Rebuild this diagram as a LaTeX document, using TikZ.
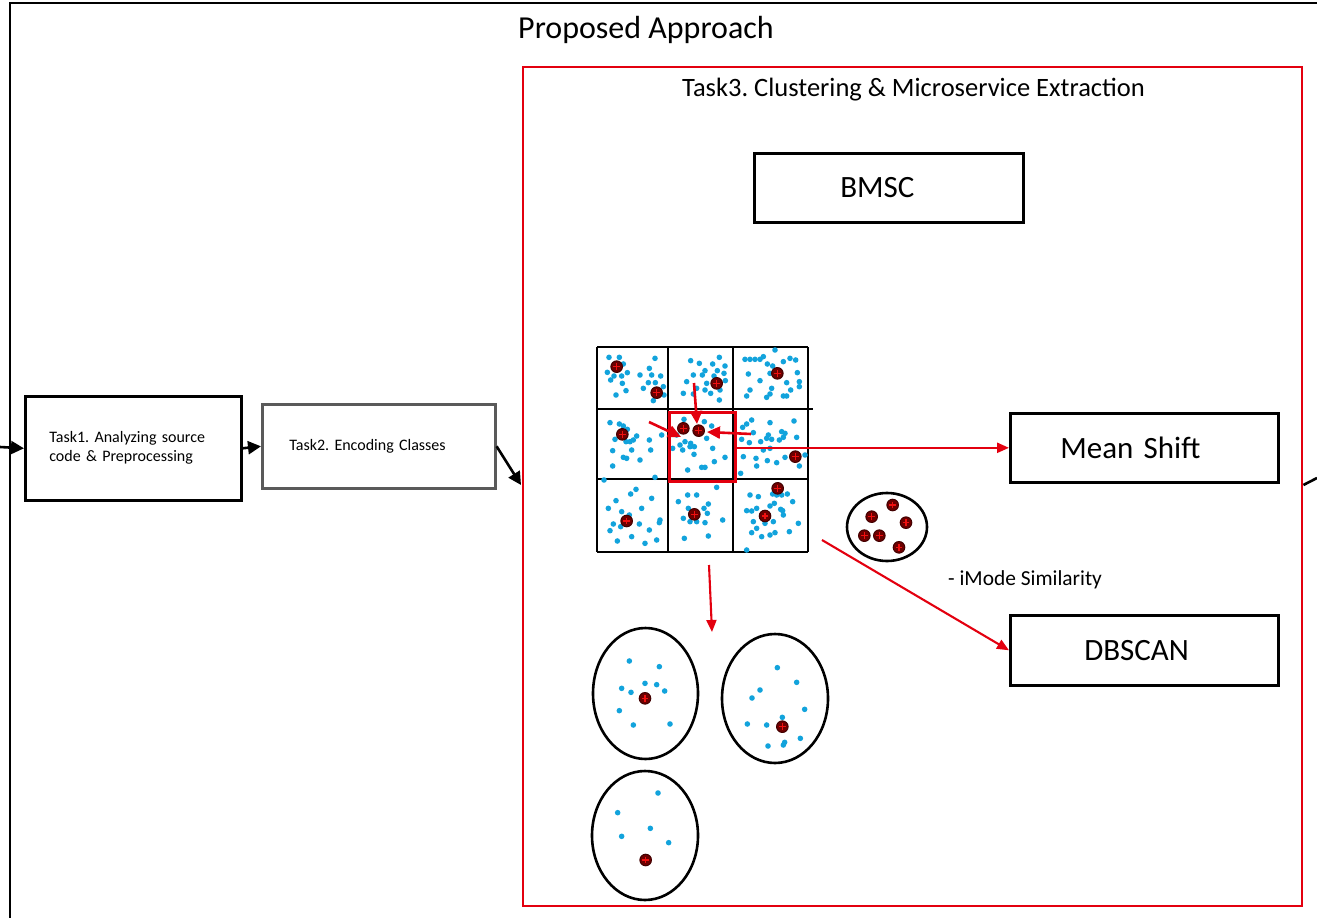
\documentclass[tikz,border=0pt]{standalone}
\usepackage{fontspec}
\setmainfont{Carlito}
\usetikzlibrary{arrows.meta,calc}
\frenchspacing

\definecolor{dotblue}{HTML}{12A3DC}
\definecolor{framered}{HTML}{E3000F}
\definecolor{cdark}{HTML}{6E0000}
\definecolor{cplus}{HTML}{F01010}
\definecolor{boxgray}{HTML}{5A5A5A}

% local origin for a group of points given in thirds of a pixel
\def\ox{0}\def\oy{0}
\newcommand\bd[2]{\fill[dotblue] ({\ox+(#1)/3},{\oy+(#2)/3}) circle[radius=2.8];}
\newcommand\cen[2]{%
  \filldraw[fill=cdark, draw=cdark!60!black, line width=1] ({\ox+(#1)/3},{\oy+(#2)/3}) circle[radius=5.8];
  \draw[cplus, line width=1.5] ({\ox+(#1)/3-3.2},{\oy+(#2)/3}) -- ++(6.4,0)
        ({\ox+(#1)/3},{\oy+(#2)/3-3.2}) -- ++(0,6.4);}

\tikzset{
  algbox/.style={draw, line width=2.6, inner ysep=0, minimum height=69, align=left},
  taskbox/.style={draw, line width=2.6, inner ysep=0, align=left, font=\fontsize{16pt}{19pt}\selectfont},
  blackarrow/.style={line width=2.6, -{Triangle[length=13pt,width=13pt]}},
  redarrow/.style={draw=framered, line width=2.1, -{Triangle[length=12pt,width=10pt]}},
  shiftarrow/.style={draw=framered, line width=2.6, -{Triangle[length=13pt,width=12pt]}},
  gridline/.style={line width=1.3},
  cluster/.style={line width=2.6},
}

\begin{document}
\begin{tikzpicture}[x=1pt, y=-1pt]
\useasboundingbox (0,0) rectangle (1317,918);

% outer frame
\draw[line width=2.8] (10,918) -- (10,3) -- (1317,3);
\node[anchor=base west, inner sep=0, font=\fontsize{32pt}{38pt}\selectfont] (title) at (518,38) {Proposed Approach};

% Task 1 and Task 2
\node[taskbox, anchor=north west, minimum height=104, inner xsep=24, text width=168] (task1) at (24,395)
  {Task1. Analyzing source\\code \& Preprocessing};
\node[taskbox, draw=boxgray, anchor=north west, minimum height=84, inner xsep=27, text width=179] (task2) at (261,403)
  {Task2. Encoding Classes};

% Task 3 frame
\node[draw=framered, line width=2.4, inner sep=0, minimum width=779, minimum height=839, anchor=north west] (task3) at (522,66) {};
\node[anchor=base west, inner sep=0, font=\fontsize{26.5pt}{32pt}\selectfont] (task3title) at (682,96) {Task3. Clustering \& Microservice Extraction};

\coordinate (entry) at (0,447);
\coordinate (t3in) at (521,485);
\coordinate (exit) at (1317,478);
\draw[blackarrow] (entry) -- (task1.west);
\draw[blackarrow] (task1.east) -- (task2.west);
\draw[blackarrow] (task2.east) -- (t3in);
\draw[line width=2.6] (task3.east |- 0,485) -- (exit);

% algorithm boxes
\node[algbox, anchor=north west, inner xsep=86, text width=97, font=\fontsize{31pt}{36pt}\selectfont] (bmsc) at (753,152) {BMSC};
\node[algbox, anchor=north west, inner xsep=50, text width=168, font=\fontsize{31pt}{36pt}\selectfont] (meanshift) at (1009,412) {Mean Shift};
\node[algbox, anchor=north west, inner xsep=74, text width=120, minimum height=70, font=\fontsize{31pt}{36pt}\selectfont] (dbscan) at (1009,614) {DBSCAN};
\node[anchor=base west, inner sep=0, font=\fontsize{21.4pt}{25pt}\selectfont] (imode) at (948,585) {- iMode Similarity};

% grid of points
\draw[gridline] (597,347) -- (808,347) (597,409) -- (813,409) (597,479) -- (808,479) (597,552) -- (808,552);
\draw[gridline] (597,347) -- (597,552) (668,347) -- (668,552) (733,347) -- (733,552) (808,347) -- (808,552);

\def\ox{590}\def\oy{340}
\foreach \p/\q in {57/52,88/52,100/72,52/97,72/108,62/120,95/108,112/98,97/130,78/165,108/152,195/55,178/85,150/105,185/105,212/108,175/128,196/128,160/145,220/140,222/165,190/182,
  388/52,302/62,328/70,368/72,405/78,345/92,382/92,402/100,310/105,337/105,372/108,290/125,350/130,406/122,320/145,345/150,390/150,280/160,310/162,362/160,388/180,
  555/30,465/58,480/58,495/58,510/58,520/50,532/72,548/78,580/65,600/55,617/60,622/98,540/100,510/122,475/102,590/128,628/125,628/140,545/145,480/150,540/162,530/172,602/150,470/168,580/168,590/168,
  60/248,88/252,100/258,112/268,75/298,108/305,120/305,130/300,140/288,178/300,182/330,215/285,150/360,68/332,100/352,110/355,68/378,195/412,42/420,125/330,
  260/285,285/305,270/315,302/310,300/320,313/320,278/330,248/325,350/295,368/325,405/352,312/343,345/382,335/382,373/365,293/390,343/245,365/258,282/238,
  485/240,470/252,540/248,612/243,458/262,490/278,455/298,512/305,478/308,535/285,530/295,545/298,575/275,585/280,580/292,620/292,568/300,460/350,498/355,520/330,532/362,560/368,585/352,500/378,452/400,645/345,628/378,540/325,
  138/448,122/462,185/475,78/482,55/505,95/515,155/505,118/525,210/540,208/548,70/552,92/560,148/552,178/570,60/572,125/590,82/603,165/610,200/600,
  380/442,293/465,320/465,265/485,355/492,295/505,342/505,302/522,352/520,280/535,300/545,320/545,345/548,398/540,283/595,355/588,
  548/462,560/465,575/465,592/462,480/465,505/470,608/485,553/490,470/512,485/513,500/505,572/508,540/498,550/545,490/545,525/550,580/525,500/565,625/550,540/585,555/578,598/575,485/578,470/630,515/590,578/512}
  {\bd{\p}{\q}}
\foreach \p/\q in {80/80,200/158,380/130,562/100,97/283,280/265,326/272,616/350,110/543,313/523,563/445,525/528}
  {\cen{\p}{\q}}

% selected window and shift vectors
\node[draw=framered, line width=3.2, inner sep=0, minimum width=66, minimum height=69, anchor=north west] (sel) at (668,411) {};
\coordinate (vt) at (694,383); \coordinate (vtend) at (697,424);
\coordinate (vl) at (649,422); \coordinate (vlend) at (681,437);
\coordinate (vr) at (751,434); \coordinate (vrend) at (707,432);
\draw[shiftarrow] (vt) -- (vtend);
\draw[shiftarrow] (vl) -- (vlend);
\draw[shiftarrow] (vr) -- (vrend);
\draw[redarrow, line width=2.3] (sel.east |- meanshift.west) -- (meanshift.west);

% resulting clusters
\coordinate (down) at (709,565); \coordinate (downend) at (712,632);
\draw[redarrow] (down) -- (downend);
\draw[cluster] (645.5,693.5) ellipse[x radius=52.5, y radius=65.5];
\draw[cluster] (775,698.5) ellipse[x radius=53, y radius=64.5];
\draw[cluster] (645,835.5) ellipse[x radius=53, y radius=64.5];

\def\ox{580}\def\oy{560}
\foreach \p/\q in {148/303,238/320,125/385,153/397,195/370,230/374,254/393,118/452,160/495,270/492,
  592/323,650/367,540/390,516/414,674/448,607/472,502/492,560/495,661/535,564/558,610/555,614/547,
  234/699,113/758,211/805,125/829,266/848}
  {\bd{\p}{\q}}
\foreach \p/\q in {195/415,607/500,197/900}
  {\cen{\p}{\q}}

% cluster of modes
\draw[cluster] (887,527) ellipse[x radius=40, y radius=34];
\def\ox{820}\def\oy{480}
\foreach \p/\q in {218/75,155/110,258/128,133/167,178/167,237/202}
  {\cen{\p}{\q}}
\coordinate (diag) at (822,540);
\draw[redarrow] (diag) -- (dbscan.west);
\end{tikzpicture}
\end{document}
